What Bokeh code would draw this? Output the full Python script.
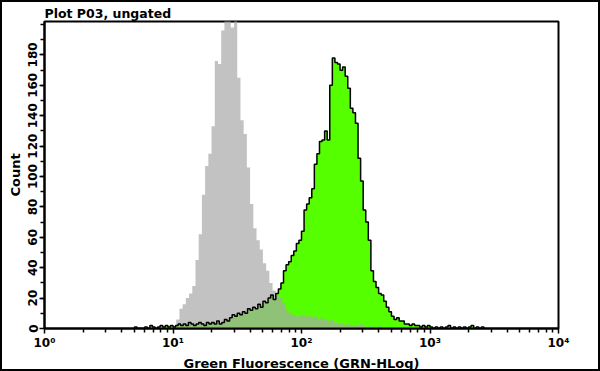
import numpy as np
from bokeh.plotting import figure
from bokeh.models import FixedTicker
from bokeh.embed import file_html
from bokeh.resources import INLINE

# ---- data ----
x_decades = [1, 10, 100, 1000, 10000]
x_tick_labels = ["10⁰", "10¹", "10²", "10³", "10⁴"]
y_ticks = [0, 20, 40, 60, 80, 100, 120, 140, 160, 180]

# grey (control) histogram: bins of 0.025 decade starting at 10^1.0
gray_log_start = 1.0
gray_log_step = 0.025
gray_counts = [1, 6, 13, 16, 20, 23, 28, 45, 62, 88,
               107, 115, 133, 176, 174, 196, 205, 210, 198, 208,
               165, 137, 128, 106, 82, 66, 58, 52, 43, 38,
               30, 25, 22, 20, 17, 12, 10, 9, 8, 8,
               9, 8, 8, 7, 8, 6, 7, 6, 5, 6,
               4, 3, 3, 2, 3, 2, 2, 2, 3, 2,
               1, 2, 1, 1, 2, 1, 1, 1, 0]

# green (stained) histogram: bins of 0.02 decade starting at 10^0.70
green_log_start = 0.70
green_log_step = 0.02
green_counts = [1, 0, 0, 0, 1, 0, 2, 1, 0, 1,
                2, 1, 2, 1, 2, 1, 2, 3, 2, 3,
                2, 4, 3, 2, 3, 4, 3, 2, 4, 3,
                4, 3, 5, 3, 4, 6, 5, 7, 9, 8,
                10, 9, 11, 10, 13, 12, 14, 13, 16, 14,
                18, 17, 20, 22, 19, 23, 26, 30, 38, 42,
                44, 48, 51, 56, 58, 64, 78, 82, 86, 92,
                108, 115, 123, 124, 130, 124, 160, 178, 175, 174,
                170, 172, 166, 158, 145, 142, 135, 112, 97, 78,
                70, 58, 38, 31, 27, 23, 22, 18, 14, 11,
                8, 6, 7, 5, 5, 3, 3, 2, 3, 2,
                2, 1, 2, 1, 2, 1, 0, 1, 0, 1,
                0, 1, 2, 0, 1, 0, 1, 0, 1, 0,
                1, 2, 0, 1, 0, 1]


def step_outline(log_start, log_step, counts):
    n = len(counts)
    edges = 10 ** (log_start + log_step * np.arange(n + 1))
    xs, ys = [edges[0]], [0]
    for i, c in enumerate(counts):
        xs += [edges[i], edges[i + 1]]
        ys += [c, c]
    xs.append(edges[-1])
    ys.append(0)
    return xs, ys


FONT = "DejaVu Sans"

p = figure(width=600, height=371, x_axis_type="log",
           x_range=(1, 10000), y_range=(0, 202),
           output_backend="svg", toolbar_location=None,
           title="Plot P03, ungated",
           min_border_left=42, min_border_right=44,
           min_border_top=19, min_border_bottom=42)
p.styles = {"border": "2px solid black", "box-sizing": "border-box"}

p.background_fill_color = "white"
p.border_fill_color = "white"
p.outline_line_color = "black"
p.outline_line_width = 2
p.xgrid.visible = False
p.ygrid.visible = False

p.title.text_font = FONT
p.title.text_font_size = "12.5px"
p.title.text_font_style = "bold"
p.title.text_color = "black"
p.title.align = "left"
p.title.offset = 0
p.title.standoff = 2

gx, gy = step_outline(green_log_start, green_log_step, green_counts)
cx, cy = step_outline(gray_log_start, gray_log_step, gray_counts)

p.patch(gx, gy, fill_color="#55ff00", line_color=None)
p.patch(cx, cy, fill_color="#a8a8a8", fill_alpha=0.7, line_color=None)
p.line(gx, gy, line_color="black", line_width=1.5)

# x axis
minor_x = [m * d for d in [1, 10, 100, 1000] for m in range(2, 10)]
p.xaxis.ticker = FixedTicker(ticks=x_decades, minor_ticks=minor_x)
p.xaxis.major_label_overrides = {v: lab for v, lab in zip(x_decades, x_tick_labels)}
p.xaxis.axis_label = "Green Fluorescence (GRN-HLog)"

# y axis
minor_y = list(range(10, 201, 10))
p.yaxis.ticker = FixedTicker(ticks=y_ticks, minor_ticks=minor_y)
p.yaxis.major_label_orientation = "vertical"
p.yaxis.axis_label = "Count"

for ax in (p.xaxis[0], p.yaxis[0]):
    ax.axis_line_color = "black"
    ax.axis_line_width = 2
    ax.major_tick_in = 0
    ax.major_tick_out = 5
    ax.minor_tick_in = 0
    ax.minor_tick_out = 4
    ax.major_tick_line_color = "black"
    ax.minor_tick_line_color = "black"
    ax.major_tick_line_width = 1.5
    ax.minor_tick_line_width = 1.5
    ax.major_label_text_font = FONT
    ax.major_label_text_font_size = "12px"
    ax.major_label_text_font_style = "bold"
    ax.major_label_text_color = "black"
    ax.major_label_standoff = 2
    ax.axis_label_text_font = FONT
    ax.axis_label_text_font_size = "13px"
    ax.axis_label_text_font_style = "bold"
    ax.axis_label_text_color = "black"
    ax.axis_label_standoff = 3

open("out.html", "w").write(file_html(p, INLINE))
